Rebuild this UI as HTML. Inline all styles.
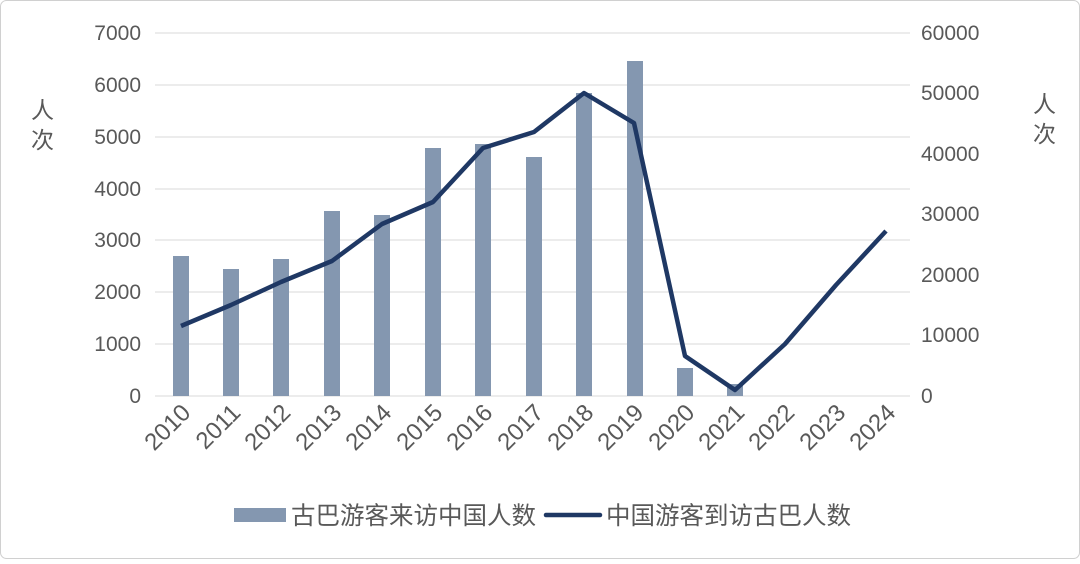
<!DOCTYPE html>
<html><head><meta charset="utf-8"><style>
body{margin:0;background:#fff;}
svg text{font-family:"Liberation Sans","Noto Sans CJK SC",sans-serif;fill:#595959;}
</style></head><body>
<svg width="1080" height="559" viewBox="0 0 1080 559" xmlns="http://www.w3.org/2000/svg">
<rect x="0.5" y="0.5" width="1079" height="558" rx="6" fill="#fff" stroke="#d0d0d0"/>
<g stroke="#d9d9d9" stroke-width="1">
<line x1="155" x2="910" y1="33" y2="33"/><line x1="155" x2="910" y1="85" y2="85"/>
<line x1="155" x2="910" y1="137" y2="137"/><line x1="155" x2="910" y1="189" y2="189"/>
<line x1="155" x2="910" y1="240" y2="240"/><line x1="155" x2="910" y1="292" y2="292"/>
<line x1="155" x2="910" y1="344" y2="344"/><line x1="155" x2="910" y1="396" y2="396"/>
</g>
<g font-size="21" text-anchor="end">
<text x="141" y="40">7000</text><text x="141" y="92">6000</text><text x="141" y="144">5000</text>
<text x="141" y="196">4000</text><text x="141" y="247">3000</text><text x="141" y="299">2000</text>
<text x="141" y="351">1000</text><text x="141" y="403">0</text>
</g>
<g font-size="21" text-anchor="start">
<text x="921" y="40">60000</text><text x="921" y="100">50000</text><text x="921" y="161">40000</text>
<text x="921" y="221">30000</text><text x="921" y="282">20000</text><text x="921" y="342">10000</text>
<text x="921" y="403">0</text>
</g>
<g font-size="23"><text x="31" y="118">人</text><text x="31" y="148">次</text>
<text x="1033" y="112">人</text><text x="1033" y="142">次</text></g>
<g fill="#8497b0">
<rect x="173" y="256" width="16" height="140"/><rect x="223" y="269" width="16" height="127"/>
<rect x="273" y="259" width="16" height="137"/><rect x="324" y="211" width="16" height="185"/>
<rect x="374" y="215" width="16" height="181"/><rect x="425" y="148" width="16" height="248"/>
<rect x="475" y="144" width="16" height="252"/><rect x="526" y="157" width="16" height="239"/>
<rect x="576" y="93" width="16" height="303"/><rect x="627" y="61" width="16" height="335"/>
<rect x="677" y="368" width="16" height="28"/><rect x="727" y="384" width="16" height="12"/>
</g>
<polyline fill="none" stroke="#1f3864" stroke-width="4.5" stroke-linejoin="round" points="181,326 231,305 281,282 332,261 382,224 433,202 483,148 534,132 584,93 634,123 685,356 735,390 785,344 836,285 886,231"/>
<g font-size="24" text-anchor="end">
<text transform="translate(192,414) rotate(-45)">2010</text>
<text transform="translate(242,414) rotate(-45)">2011</text>
<text transform="translate(292,414) rotate(-45)">2012</text>
<text transform="translate(343,414) rotate(-45)">2013</text>
<text transform="translate(393,414) rotate(-45)">2014</text>
<text transform="translate(444,414) rotate(-45)">2015</text>
<text transform="translate(494,414) rotate(-45)">2016</text>
<text transform="translate(545,414) rotate(-45)">2017</text>
<text transform="translate(595,414) rotate(-45)">2018</text>
<text transform="translate(645,414) rotate(-45)">2019</text>
<text transform="translate(696,414) rotate(-45)">2020</text>
<text transform="translate(746,414) rotate(-45)">2021</text>
<text transform="translate(796,414) rotate(-45)">2022</text>
<text transform="translate(847,414) rotate(-45)">2023</text>
<text transform="translate(897,414) rotate(-45)">2024</text>
</g>
<rect x="234" y="508" width="52" height="14" fill="#8497b0"/>
<text x="291" y="524" font-size="24.5">古巴游客来访中国人数</text>
<line x1="546" x2="600" y1="515" y2="515" stroke="#1f3864" stroke-width="4.5" stroke-linecap="round"/>
<text x="606" y="524" font-size="24.5">中国游客到访古巴人数</text>
</svg>
</body></html>
